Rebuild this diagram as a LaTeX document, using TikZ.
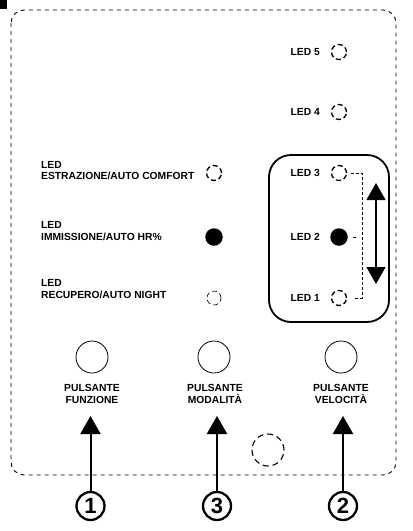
\documentclass[tikz,border=0pt]{standalone}
\usepackage{fontspec}
\setmainfont{Liberation Sans}
\usetikzlibrary{arrows.meta}
\begin{document}
\begin{tikzpicture}[x=1pt,y=-1pt,
  lbl/.style={font=\bfseries\fontsize{10.3}{11.5}\selectfont, inner sep=0pt, align=left},
  lblc/.style={font=\bfseries\fontsize{10.3}{12}\selectfont, inner sep=0pt, align=center},
  ledoff/.style={circle, draw, dash pattern=on 5pt off 3pt, line width=1.3pt, minimum size=15pt, inner sep=0pt},
  ledon/.style={circle, fill, minimum size=17.5pt, inner sep=0pt},
  btn/.style={circle, draw, line width=0.8pt, minimum size=32pt, inner sep=0pt},
  num/.style={circle, draw, line width=2.3pt, minimum size=28pt, inner sep=0pt, font=\bfseries\fontsize{22}{22}\selectfont},
  bigarrow/.style={line width=2pt, -{Triangle[width=20pt,length=18pt]}},
  border/.style={dash pattern=on 4pt off 4pt, line width=0.9pt, rounded corners=13pt}
]
\useasboundingbox (0,0) rectangle (413,531);
\fill (0,0) rectangle (7,9);
\draw[border] (11,10) rectangle (396,475);

% right LEDs
\node[ledoff] (l5) at (339,52) {};
\node[lbl, anchor=east] (t5) at (320,52) {LED 5};
\node[ledoff] (l4) at (339,112) {};
\node[lbl, anchor=east] (t4) at (320,112) {LED 4};

% left LEDs
\node[ledoff] (le) at (214,173) {};
\node[lbl, anchor=west] (te) at (41,170.5) {LED\\ESTRAZIONE/AUTO COMFORT};
\node[ledon] (li) at (214,237) {};
\node[lbl, anchor=west] (ti) at (41,231) {LED\\IMMISSIONE/AUTO HR\%};
\node[ledoff, line width=0.6pt, minimum size=14pt] (lr) at (214,298) {};
\node[lbl, anchor=west] (tr) at (41,289) {LED\\RECUPERO/AUTO NIGHT};

% speed box
\draw[line width=1.8pt, rounded corners=22pt] (269,155) rectangle (389,322);
\node[ledoff] (l3) at (339,173) {};
\node[lbl, anchor=east] (t3) at (320,173) {LED 3};
\node[ledon] (l2) at (339,237) {};
\node[lbl, anchor=east] (t2) at (320,237) {LED 2};
\node[ledoff] (l1) at (339,298) {};
\node[lbl, anchor=east] (t1) at (320,298) {LED 1};
\coordinate (c3) at (362,173);
\coordinate (c2) at (362,237);
\coordinate (c1) at (362,298);
\draw[line width=0.7pt, dash pattern=on 3pt off 2pt] (l3.east) ++(4,0) -- (c3) -- (c1) -- ++(-9,0);
\draw[line width=0.7pt] (l2.east) ++(5,0) -- ++(3,0);
\coordinate (a1) at (376,183);
\coordinate (a2) at (376,284);
\draw[line width=1.3pt, {Triangle[width=19pt,length=17pt]}-{Triangle[width=19pt,length=17pt]}] (a1) -- (a2);

% buttons
\node[btn] (b1) at (92,357) {};
\node[btn] (b3) at (214,357) {};
\node[btn] (b2) at (341,357) {};
\node[lblc] (p1) at (92,394) {PULSANTE\\FUNZIONE};
\node[lblc] (p3) at (215,394) {PULSANTE\\MODALITÀ};
\node[lblc] (p2) at (341,394) {PULSANTE\\VELOCITÀ};

\node[circle, draw, minimum size=32pt, inner sep=0pt, line width=1.1pt, dash pattern=on 6pt off 4pt] (sensor) at (268,450) {};

% numbers and arrows
\node[num] (n1) at (90.5,506) {1};
\node[num] (n3) at (217,506) {3};
\node[num] (n2) at (343,506) {2};
\draw[bigarrow] (n1.north) -- (90.5,416);
\draw[bigarrow] (n3.north) -- (217,416);
\draw[bigarrow] (n2.north) -- (343,416);
\end{tikzpicture}
\end{document}
